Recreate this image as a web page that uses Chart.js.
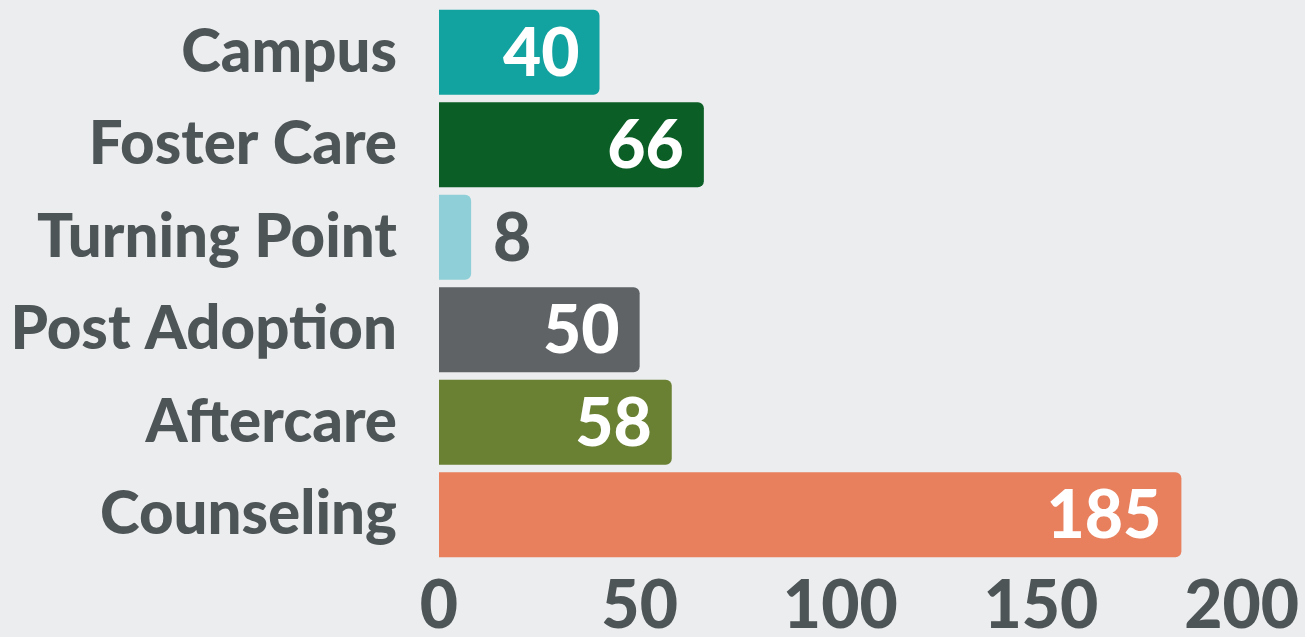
<!doctype html>
<html lang="en">
  <head>
    <meta charset="utf-8">
    <script src="https://cdn.jsdelivr.net/npm/chart.js@4.4.0/dist/chart.umd.min.js"></script>
    <title>Programs</title>
    <style>
      html, body { margin: 0; padding: 0; background: #ECEDEF; }
      #wrap { width: 1305px; height: 637px; position: relative; }
    </style>
  </head>
  <body>
    <div id="wrap">
      <canvas id="ProgramChart"></canvas>
    </div>

<script>
const programs = ['Campus', 'Foster Care', 'Turning Point', 'Post Adoption', 'Aftercare', 'Counseling'];
const counts = [40, 66, 8, 50, 58, 185];
const barColours = ['#12A29F', '#0B5E25', '#8ECFD8', '#5F6366', '#6A8033', '#E8805E'];
const xTicks = [0, 50, 100, 150, 200];

const textColour = '#4E5556';
const fontName = 'Lato';

// value labels: inside the bar end in white, outside in grey when the bar is too short
const valueLabels = {
  id: 'valueLabels',
  afterDatasetsDraw(chart) {
    const ctx = chart.ctx;
    const meta = chart.getDatasetMeta(0);
    ctx.save();
    ctx.font = '900 66px ' + fontName;
    ctx.textBaseline = 'middle';
    meta.data.forEach(function (bar, i) {
      const txt = String(counts[i]);
      const w = ctx.measureText(txt).width;
      const barLen = bar.x - bar.base;
      if (barLen > w + 40) {
        ctx.fillStyle = '#FFFFFF';
        ctx.textAlign = 'right';
        ctx.fillText(txt, bar.x - 20, bar.y + 2);
      } else {
        ctx.fillStyle = textColour;
        ctx.textAlign = 'left';
        ctx.fillText(txt, bar.x + 22, bar.y + 2);
      }
    });
    ctx.restore();
  }
};

var ctx = document.getElementById('ProgramChart').getContext('2d');
var ProgramChart = new Chart(ctx, {
  type: 'bar',
  data: {
    labels: programs,
    datasets: [{
      data: counts,
      backgroundColor: barColours,
      borderWidth: 0,
      borderRadius: 6,
      borderSkipped: 'start',
      barPercentage: 0.92,
      categoryPercentage: 1.0
    }]
  },
  plugins: [valueLabels],
  options: {
    indexAxis: 'y',
    responsive: true,
    maintainAspectRatio: false,
    animation: false,
    layout: {
      padding: { top: 6, right: 5, left: 0, bottom: 0 }
    },
    scales: {
      x: {
        min: 0,
        max: 200,
        afterBuildTicks: function (axis) {
          axis.ticks = xTicks.map(function (v) { return { value: v }; });
        },
        afterFit: function (axis) {
          axis.height = 76;
        },
        grid: { display: false, drawTicks: false },
        border: { display: false },
        ticks: {
          color: textColour,
          padding: 6,
          maxRotation: 0,
          font: { family: fontName, size: 66, weight: '900' }
        }
      },
      y: {
        afterFit: function (axis) {
          axis.paddingTop = 0;
          axis.paddingBottom = 0;
          axis.width = 439;
        },
        grid: { display: false, drawTicks: false },
        border: { display: false },
        ticks: {
          color: textColour,
          padding: 42,
          font: { family: fontName, size: 60, weight: '900' }
        }
      }
    },
    plugins: {
      legend: { display: false },
      tooltip: { enabled: false }
    }
  }
});
</script>
  </body>
</html>
